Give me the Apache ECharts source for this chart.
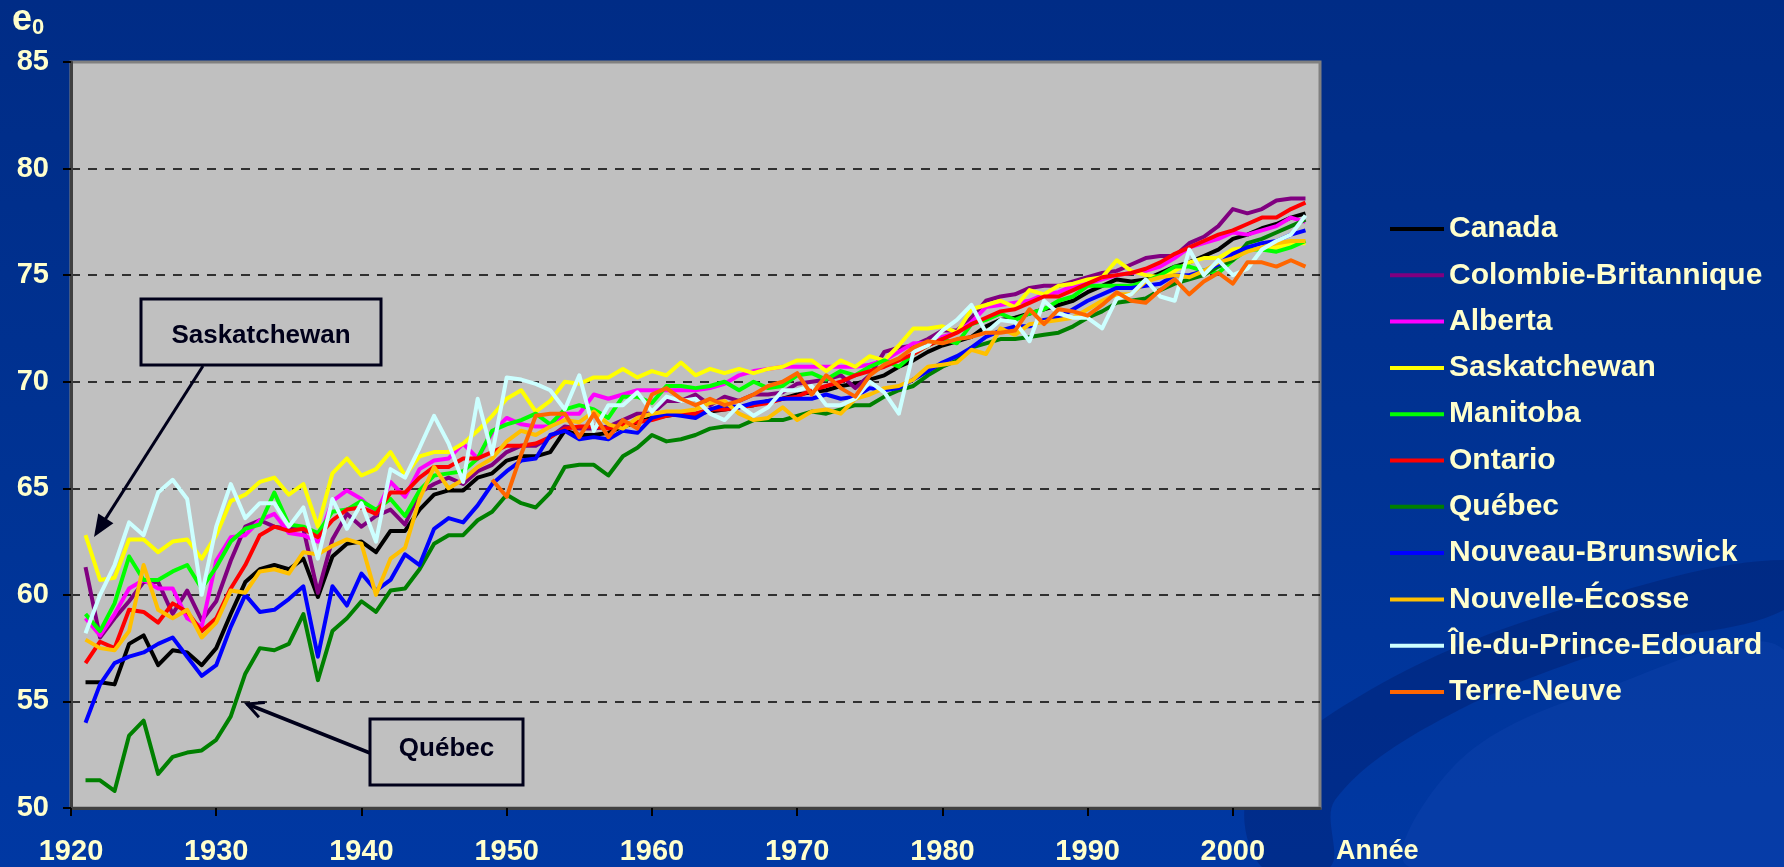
<!DOCTYPE html>
<html>
<head>
<meta charset="utf-8">
<script src="https://cdn.jsdelivr.net/npm/echarts@6/dist/echarts.min.js"></script>
<style>
  html, body { margin: 0; padding: 0; }
  #main {
    width: 1784px; height: 867px;
    background: linear-gradient(180deg, #002c86 0%, #003394 55%, #0038a3 100%);
  }
</style>
</head>
<body>
<div id="main"></div>
<script>
// années 1921-2005
const years = [
  1921,1922,1923,1924,1925,1926,1927,1928,1929,1930,
  1931,1932,1933,1934,1935,1936,1937,1938,1939,1940,
  1941,1942,1943,1944,1945,1946,1947,1948,1949,1950,
  1951,1952,1953,1954,1955,1956,1957,1958,1959,1960,
  1961,1962,1963,1964,1965,1966,1967,1968,1969,1970,
  1971,1972,1973,1974,1975,1976,1977,1978,1979,1980,
  1981,1982,1983,1984,1985,1986,1987,1988,1989,1990,
  1991,1992,1993,1994,1995,1996,1997,1998,1999,2000,
  2001,2002,2003,2004,2005
];
const xTicks = [1920, 1930, 1940, 1950, 1960, 1970, 1980, 1990, 2000];

// espérance de vie à la naissance (e0)
const canada = [
  55.9,55.9,55.8,57.7,58.1,56.7,57.4,57.3,56.7,57.5,
  59.1,60.6,61.2,61.4,61.2,61.7,59.9,61.8,62.4,62.5,
  62.0,63.0,63.0,64.0,64.7,64.9,64.9,65.5,65.7,66.3,
  66.5,66.5,66.7,67.7,67.5,67.5,67.6,67.9,68.1,68.3,
  68.4,68.5,68.5,68.6,68.7,68.8,68.9,69.1,69.2,69.4,
  69.5,69.6,69.8,69.9,70.1,70.3,70.7,71.0,71.4,71.7,
  71.9,72.1,72.6,72.9,73.0,73.2,73.4,73.6,73.8,74.2,
  74.5,74.8,74.7,74.8,75.1,75.4,75.6,75.9,76.2,76.7,
  76.9,77.2,77.4,77.7,77.9
];
const colombieBritannique = [
  61.3,58.0,58.9,59.7,60.6,60.6,59.1,60.2,58.8,59.7,
  61.6,63.2,63.5,63.2,63.1,63.1,60.1,62.6,63.8,63.2,
  63.7,64.0,63.3,64.8,65.2,65.5,65.2,65.8,66.1,66.7,
  67.0,67.0,67.4,67.9,67.8,67.8,67.9,68.2,68.5,68.5,
  69.1,69.1,69.4,68.9,69.3,69.1,69.4,69.4,69.5,69.9,
  70.0,70.1,70.3,69.7,70.3,71.4,71.6,71.7,72.0,72.4,
  72.4,73.0,73.8,74.0,74.1,74.4,74.5,74.5,74.7,74.9,
  75.1,75.2,75.5,75.8,75.9,75.9,76.5,76.8,77.3,78.1,
  77.9,78.1,78.5,78.6,78.6
];
const alberta = [
  58.9,58.1,59.1,60.3,60.7,60.3,60.3,58.9,58.5,61.6,
  62.7,62.8,63.5,63.8,62.9,62.8,62.5,64.4,64.9,64.5,
  63.8,65.3,64.6,65.9,66.3,66.4,67.1,66.4,67.6,68.3,
  68.0,67.9,67.9,68.5,68.5,69.4,69.2,69.4,69.6,69.6,
  69.6,69.6,69.6,69.7,69.9,70.3,70.5,70.6,70.7,70.7,
  70.7,70.7,70.7,70.7,70.8,71.0,71.4,71.8,71.8,72.1,
  72.3,72.8,73.5,73.6,73.7,73.8,74.1,74.2,74.5,74.6,
  74.8,75.0,75.1,75.2,75.4,75.8,76.3,76.5,76.7,77.0,
  76.9,77.1,77.3,77.7,77.5
];
const saskatchewan = [
  62.8,60.7,60.8,62.6,62.6,62.0,62.5,62.6,61.7,62.8,
  64.4,64.7,65.3,65.5,64.7,65.2,63.2,65.7,66.4,65.6,
  65.9,66.7,65.6,66.5,66.7,66.7,67.1,67.7,68.4,69.2,
  69.6,68.6,69.1,70.0,69.9,70.2,70.2,70.6,70.2,70.5,
  70.3,70.9,70.3,70.6,70.4,70.6,70.4,70.6,70.7,71.0,
  71.0,70.5,71.0,70.7,71.2,71.0,71.7,72.5,72.5,72.6,
  72.3,73.4,73.6,73.8,73.5,74.3,74.1,74.5,74.6,74.8,
  74.9,75.7,75.2,75.0,74.9,75.2,75.6,75.8,75.8,76.2,
  76.3,76.2,76.3,76.5,76.5
];
const manitoba = [
  59.1,58.3,59.6,61.8,60.7,60.7,61.1,61.4,60.3,61.3,
  62.5,63.1,63.3,64.8,63.3,63.2,62.9,63.9,64.0,64.4,
  64.0,64.5,63.7,64.9,65.6,65.7,65.8,66.4,67.7,68.0,
  68.2,68.5,68.0,68.7,68.9,68.7,68.3,69.3,69.3,69.0,
  69.8,69.8,69.7,69.8,70.0,69.6,70.0,69.7,69.8,70.3,
  70.4,70.1,70.5,70.3,70.7,71.0,70.7,71.3,71.7,72.0,
  71.8,72.7,72.9,73.2,72.9,73.2,73.4,73.8,74.0,74.5,
  74.5,74.5,74.5,74.7,75.0,75.4,75.4,75.2,75.1,75.7,
  76.2,76.2,76.1,76.3,76.6
];
const ontario = [
  56.8,57.8,57.5,59.3,59.2,58.7,59.6,59.2,58.3,58.9,
  60.3,61.4,62.8,63.2,63.0,63.1,62.7,63.5,64.0,64.1,
  63.8,64.8,64.8,65.5,66.0,66.0,66.4,66.4,66.7,67.0,
  67.0,67.1,67.4,67.8,67.9,67.9,67.8,68.0,68.1,68.2,
  68.4,68.5,68.5,68.7,68.7,68.8,68.9,69.0,69.2,69.3,
  69.6,69.8,70.0,70.3,70.5,70.7,71.0,71.3,71.7,72.0,
  72.3,72.7,73.0,73.3,73.4,73.7,74.0,74.0,74.3,74.6,
  74.9,75.0,75.1,75.3,75.6,76.0,76.3,76.6,76.9,77.1,
  77.4,77.7,77.7,78.1,78.4
];
const quebec = [
  51.3,51.3,50.8,53.4,54.1,51.6,52.4,52.6,52.7,53.2,
  54.3,56.3,57.5,57.4,57.7,59.1,56.0,58.3,58.9,59.7,
  59.2,60.2,60.3,61.2,62.4,62.8,62.8,63.5,63.9,64.7,
  64.3,64.1,64.8,66.0,66.1,66.1,65.6,66.5,66.9,67.5,
  67.2,67.3,67.5,67.8,67.9,67.9,68.2,68.2,68.2,68.4,
  68.6,68.5,68.7,68.9,68.9,69.3,69.6,69.8,70.3,70.7,
  71.0,71.6,71.8,72.0,72.0,72.1,72.2,72.3,72.6,73.0,
  73.3,73.7,73.8,73.9,74.3,74.6,74.8,75.0,75.4,75.7,
  76.5,76.7,77.0,77.3,77.6
];
const nouveauBrunswick = [
  54.0,55.8,56.8,57.1,57.3,57.7,58.0,57.1,56.2,56.7,
  58.5,60.0,59.2,59.3,59.8,60.4,57.1,60.4,59.5,61.0,
  60.2,60.7,61.9,61.4,63.1,63.6,63.4,64.2,65.2,65.8,
  66.3,66.4,67.5,67.7,67.3,67.4,67.3,67.7,67.6,68.3,
  68.5,68.4,68.3,68.7,68.9,68.8,69.0,69.1,69.2,69.2,
  69.2,69.4,69.2,69.3,69.7,69.6,69.7,70.1,70.5,70.9,
  71.2,71.6,72.1,72.4,72.6,72.6,72.9,73.0,73.4,73.8,
  74.1,74.4,74.4,74.5,74.6,75.0,75.0,75.2,75.5,76.0,
  76.3,76.5,76.6,76.9,77.1
];
const nouvelleEcosse = [
  57.9,57.5,57.4,58.3,61.4,59.3,58.9,59.3,58.0,58.7,
  60.2,60.1,61.1,61.2,61.0,62.0,61.9,62.3,62.6,62.4,
  60.0,61.7,62.2,64.5,66.0,65.0,65.4,66.0,66.4,67.2,
  67.7,67.5,67.9,68.2,68.1,68.6,68.0,67.8,68.3,68.5,
  68.6,68.6,68.7,69.0,69.1,68.5,68.2,68.3,68.8,68.2,
  68.6,68.7,68.5,69.2,69.4,69.7,69.8,70.1,70.7,70.8,
  70.9,71.5,71.3,72.5,72.2,72.7,72.8,72.9,73.0,73.4,
  73.8,74.1,74.1,74.7,74.9,75.0,74.9,75.2,75.6,75.8,
  76.1,76.3,76.5,76.6,76.6
];
const ilePrinceEdouard = [
  58.2,60.0,61.4,63.4,62.8,64.8,65.4,64.5,60.0,63.2,
  65.2,63.6,64.3,64.3,63.2,64.1,61.7,64.5,63.1,64.3,
  62.5,65.9,65.5,66.9,68.4,67.1,65.3,69.2,66.6,70.2,
  70.1,69.9,69.6,68.7,70.3,67.7,68.9,68.9,69.5,68.6,
  69.3,69.1,69.2,68.5,68.2,68.9,68.4,68.8,69.6,69.6,
  69.8,68.9,68.9,69.2,70.0,69.5,68.5,71.4,71.7,72.4,
  72.9,73.6,72.3,72.9,72.8,71.9,73.8,73.2,73.0,73.0,
  72.5,73.9,74.1,74.8,74.0,73.8,76.2,75.0,75.7,75.0,
  75.3,76.2,76.6,76.9,77.8
];
const terreNeuve = [
  null,null,null,null,null,null,null,null,null,null,
  null,null,null,null,null,null,null,null,null,null,
  null,null,null,null,null,null,null,null,65.4,64.6,
  66.6,68.4,68.5,68.5,67.4,68.5,67.4,68.2,67.8,69.4,
  69.7,69.2,68.9,69.2,68.9,69.1,69.4,69.8,70.0,70.4,
  69.4,70.3,69.7,69.3,70.3,70.8,71.1,71.6,71.9,71.8,
  72.0,72.1,72.3,72.3,72.4,73.4,72.7,73.4,73.3,73.1,
  73.6,74.2,73.8,73.7,74.3,74.8,74.1,74.7,75.1,74.6,
  75.6,75.6,75.4,75.7,75.4
];

const seriesNames = [
  'Canada', 'Colombie-Britannique', 'Alberta', 'Saskatchewan', 'Manitoba',
  'Ontario', 'Québec', 'Nouveau-Brunswick', 'Nouvelle-Écosse',
  'Île-du-Prince-Edouard', 'Terre-Neuve'
];
const seriesData = [
  canada, colombieBritannique, alberta, saskatchewan, manitoba,
  ontario, quebec, nouveauBrunswick, nouvelleEcosse, ilePrinceEdouard, terreNeuve
];
const seriesColors = [
  '#000000', '#800080', '#FF00FF', '#FFFF00', '#00FF00',
  '#FF0000', '#008000', '#0000FF', '#FFC000', '#CCFFFF', '#FF6600'
];

const FONT = "'Liberation Sans', Arial, Helvetica, sans-serif";
const CREAM = '#FFFFCC';

const chart = echarts.init(document.getElementById('main'), null, { renderer: 'canvas' });

// flèches des annotations
function arrowHead(x1, y1, x2, y2, len, half) {
  const a = Math.atan2(y2 - y1, x2 - x1);
  const bx = x2 - len * Math.cos(a), by = y2 - len * Math.sin(a);
  const px = -Math.sin(a) * half, py = Math.cos(a) * half;
  return [[x2, y2], [bx + px, by + py], [bx - px, by - py]];
}
const saskArrow = { x1: 203, y1: 366, x2: 94, y2: 537 };
const quebArrow = { x1: 370, y1: 753, x2: 247, y2: 704 };
const saskHead = arrowHead(saskArrow.x1, saskArrow.y1, saskArrow.x2, saskArrow.y2, 22, 9);
const quebHead = arrowHead(quebArrow.x1, quebArrow.y1, quebArrow.x2, quebArrow.y2, 16, 8);

const option = {
  backgroundColor: 'transparent',
  animation: false,
  textStyle: { fontFamily: FONT },
  grid: {
    left: 71, right: 464, top: 62, bottom: 59,
    show: true, backgroundColor: '#C0C0C0', borderColor: '#808080', borderWidth: 3
  },
  legend: {
    orient: 'vertical',
    left: 1390, top: 214, padding: 0,
    itemWidth: 54, itemHeight: 14, itemGap: 16.3,
    data: seriesNames.map((n, i) => ({
      name: n,
      itemStyle: { color: seriesColors[i] },
      icon: 'path://M0,6 L54,6 L54,10 L0,10 Z'
    })),
    textStyle: { color: CREAM, fontSize: 30, fontWeight: 'bold', fontFamily: FONT, lineHeight: 30 }
  },
  xAxis: {
    type: 'value', min: 1920, max: 2006,
    axisLine: { show: true, onZero: false, lineStyle: { color: '#404040', width: 3 } },
    axisTick: { show: true, length: 8, customValues: xTicks, lineStyle: { color: '#000', width: 2 } },
    axisLabel: {
      customValues: xTicks, color: CREAM, fontSize: 29, fontWeight: 'bold',
      fontFamily: FONT, margin: 29,
      formatter: v => String(v)
    },
    splitLine: { show: false }
  },
  yAxis: {
    type: 'value', min: 50, max: 85, interval: 5,
    axisLine: { show: true, lineStyle: { color: '#404040', width: 3 } },
    axisTick: { show: true, length: 8, lineStyle: { color: '#000', width: 2 } },
    axisLabel: { color: CREAM, fontSize: 29, fontWeight: 'bold', fontFamily: FONT, margin: 22 },
    splitLine: {
      show: true, showMinLine: false, showMaxLine: false,
      lineStyle: { color: '#000', width: 1.5, type: [9, 8] }
    }
  },
  series: seriesNames.map((name, i) => ({
    name: name,
    type: 'line',
    symbol: 'none',
    data: years.map((y, j) => [y, seriesData[i][j]]),
    lineStyle: { width: 4, color: seriesColors[i], join: 'round' },
    itemStyle: { color: seriesColors[i] },
    emphasis: { disabled: true }
  })),
  graphic: [
    // swoosh du fond
    { type: 'polygon', z: -10, silent: true,
      shape: { smooth: 0.35, points: [[1784,560],[1560,610],[1370,690],[1250,790],[1262,867],[1330,867],[1335,800],[1440,720],[1610,650],[1784,610]] },
      style: { fill: 'rgba(0,20,90,0.30)' } },
    { type: 'polygon', z: -10, silent: true,
      shape: { smooth: 0.35, points: [[1784,650],[1600,690],[1460,760],[1410,867],[1784,867]] },
      style: { fill: 'rgba(30,80,190,0.20)' } },

    { type: 'text', x: 12, y: 20, z: 200,
      style: { text: 'e', font: 'bold 36px ' + FONT, fill: CREAM, verticalAlign: 'middle' } },
    { type: 'text', x: 32, y: 28, z: 200,
      style: { text: '0', font: 'bold 22px ' + FONT, fill: CREAM, verticalAlign: 'middle' } },
    { type: 'text', x: 1336, y: 852, z: 200,
      style: { text: 'Année', font: 'bold 27px ' + FONT, fill: CREAM, verticalAlign: 'middle' } },

    // Saskatchewan
    { type: 'rect', z: 150, shape: { x: 141, y: 299, width: 240, height: 66 },
      style: { fill: '#C0C0C0', stroke: '#00001a', lineWidth: 3 } },
    { type: 'text', x: 261, y: 336, z: 151,
      style: { text: 'Saskatchewan', font: 'bold 26px ' + FONT, fill: '#00001a',
        align: 'center', verticalAlign: 'middle' } },
    { type: 'line', z: 150,
      shape: { x1: saskArrow.x1, y1: saskArrow.y1, x2: saskHead[0][0] + (saskArrow.x1 - saskArrow.x2) * 0.1, y2: saskHead[0][1] + (saskArrow.y1 - saskArrow.y2) * 0.1 },
      style: { stroke: '#00001a', lineWidth: 3 } },
    { type: 'polygon', z: 150, shape: { points: saskHead }, style: { fill: '#00001a' } },

    // Québec
    { type: 'rect', z: 150, shape: { x: 370, y: 719, width: 153, height: 66 },
      style: { fill: '#C0C0C0', stroke: '#00001a', lineWidth: 3 } },
    { type: 'text', x: 446.5, y: 749, z: 151,
      style: { text: 'Québec', font: 'bold 26px ' + FONT, fill: '#00001a',
        align: 'center', verticalAlign: 'middle' } },
    { type: 'line', z: 150,
      shape: { x1: quebArrow.x1, y1: quebArrow.y1, x2: quebArrow.x2, y2: quebArrow.y2 },
      style: { stroke: '#00001a', lineWidth: 3.5 } },
    { type: 'polyline', z: 150, shape: { points: [quebHead[1], quebHead[0], quebHead[2]] },
      style: { stroke: '#00001a', lineWidth: 3, fill: null } }
  ]
};

chart.setOption(option);
</script>
</body>
</html>
